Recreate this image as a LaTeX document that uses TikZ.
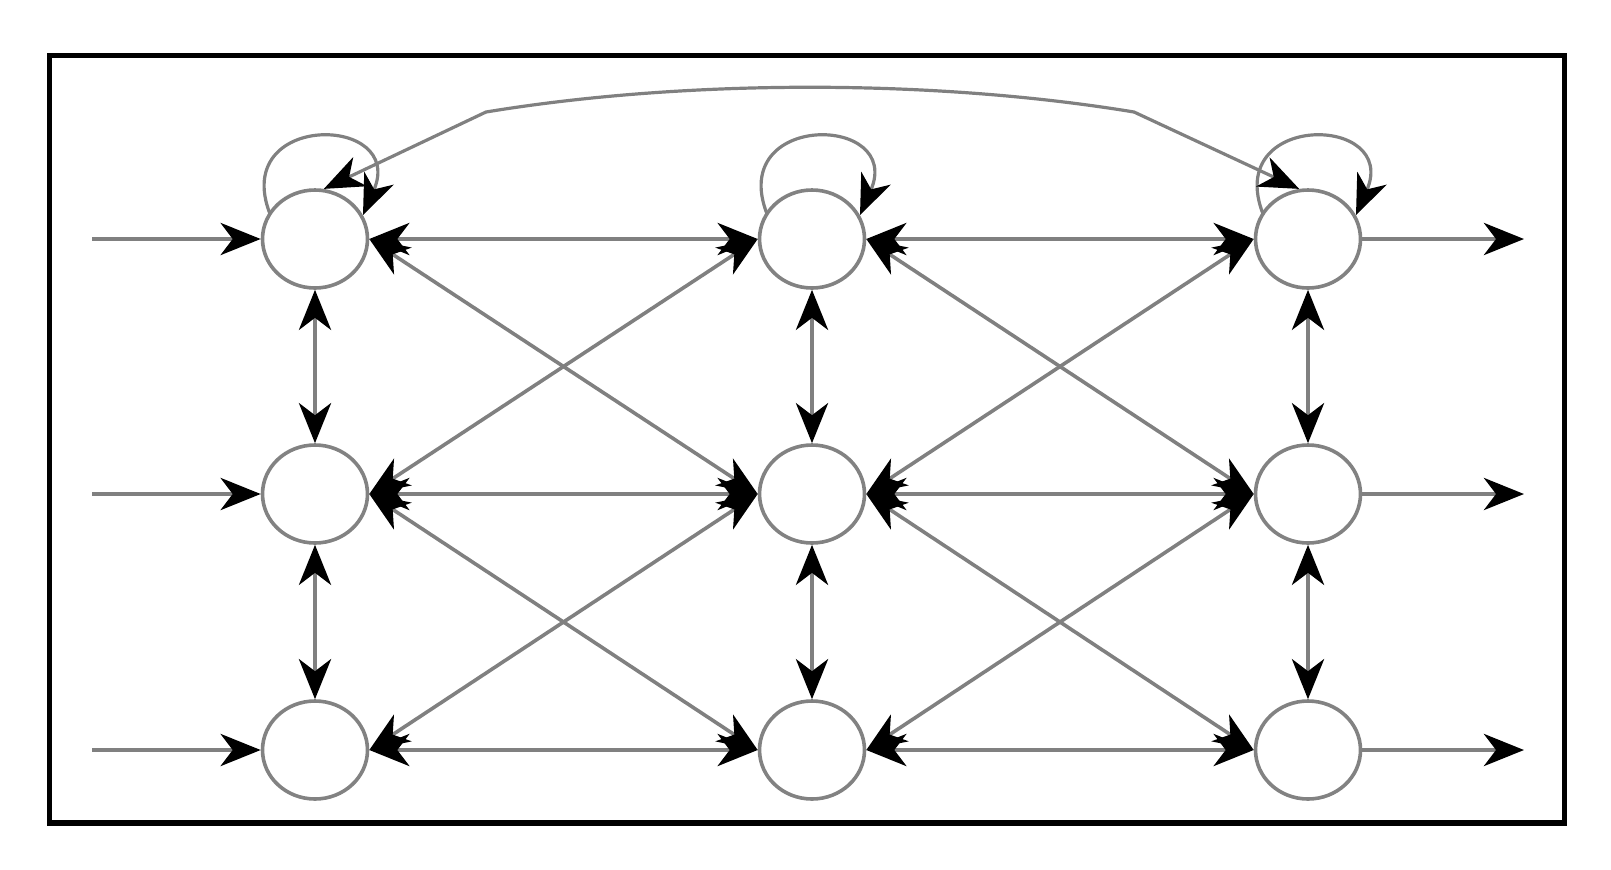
\documentclass[tikz,border=0pt]{standalone}
\usetikzlibrary{arrows.meta,shapes.geometric}
\definecolor{edgegray}{RGB}{128,128,128}
\definecolor{nodegray}{RGB}{130,130,130}
\begin{document}
\begin{tikzpicture}[x=0.5pt,y=-0.5pt,
  >={Stealth[length=20pt,width=16pt,inset=6pt,black]},
  st/.style={ellipse, draw=nodegray, line width=1.8pt, fill=white, inner sep=0pt,
             minimum width=52.5pt, minimum height=49pt},
  hconn/.style={draw=edgegray, line width=2.4pt},
  dconn/.style={draw=edgegray, line width=1.8pt},
  lconn/.style={draw=edgegray, line width=1.6pt}
]
\useasboundingbox (0,0) rectangle (1611,869);
\draw[line width=2.75pt] (49.7,55.5) rectangle (1564.5,823);

% nodes
\node[st] (A1) at (315,239) {};
\node[st] (B1) at (812,239) {};
\node[st] (C1) at (1308,239) {};
\node[st] (A2) at (315,494) {};
\node[st] (B2) at (812,494) {};
\node[st] (C2) at (1308,494) {};
\node[st] (A3) at (315,750) {};
\node[st] (B3) at (812,750) {};
\node[st] (C3) at (1308,750) {};

% free ends of inputs / outputs
\coordinate (i1) at (92,239);
\coordinate (i2) at (92,494);
\coordinate (i3) at (92,750);
\coordinate (o1) at (1524,239);
\coordinate (o2) at (1524,494);
\coordinate (o3) at (1524,750);

% inputs and outputs
\draw[hconn,->] (i1) -- (A1.west);
\draw[hconn,->] (i2) -- (A2.west);
\draw[hconn,->] (i3) -- (A3.west);
\draw[hconn,->] (C1.east) -- (o1);
\draw[hconn,->] (C2.east) -- (o2);
\draw[hconn,->] (C3.east) -- (o3);

% horizontal
\draw[hconn,<->] (A1.east) -- (B1.west);
\draw[hconn,<->] (B1.east) -- (C1.west);
\draw[hconn,<->] (A2.east) -- (B2.west);
\draw[hconn,<->] (B2.east) -- (C2.west);
\draw[hconn,<->] (A3.east) -- (B3.west);
\draw[hconn,<->] (B3.east) -- (C3.west);

% vertical
\draw[hconn,<->] (A1.south) -- (A2.north);
\draw[hconn,<->] (A2.south) -- (A3.north);
\draw[hconn,<->] (B1.south) -- (B2.north);
\draw[hconn,<->] (B2.south) -- (B3.north);
\draw[hconn,<->] (C1.south) -- (C2.north);
\draw[hconn,<->] (C2.south) -- (C3.north);

% diagonals
\draw[dconn,<->] (A1.east) -- (B2.west);
\draw[dconn,<->] (A2.east) -- (B1.west);
\draw[dconn,<->] (A2.east) -- (B3.west);
\draw[dconn,<->] (A3.east) -- (B2.west);
\draw[dconn,<->] (B1.east) -- (C2.west);
\draw[dconn,<->] (B2.east) -- (C1.west);
\draw[dconn,<->] (B2.east) -- (C3.west);
\draw[dconn,<->] (B3.east) -- (C2.west);

% self loops
\foreach \n in {A1,B1,C1}{
  \draw[lconn,->] ([shift={(-45,-25)}]\n.center)
     .. controls ([shift={(-85,-128)}]\n.center) and ([shift={(92,-125)}]\n.center)
     .. ([shift={(48,-24)}]\n.center);
}

% long arc between A1 and C1
\coordinate (k1) at (486,112);
\coordinate (k2) at (1134,112);
\draw[lconn,<->] (A1.80) -- (k1) .. controls (686,79) and (934,79) .. (k2) -- (C1.100);
\end{tikzpicture}
\end{document}
